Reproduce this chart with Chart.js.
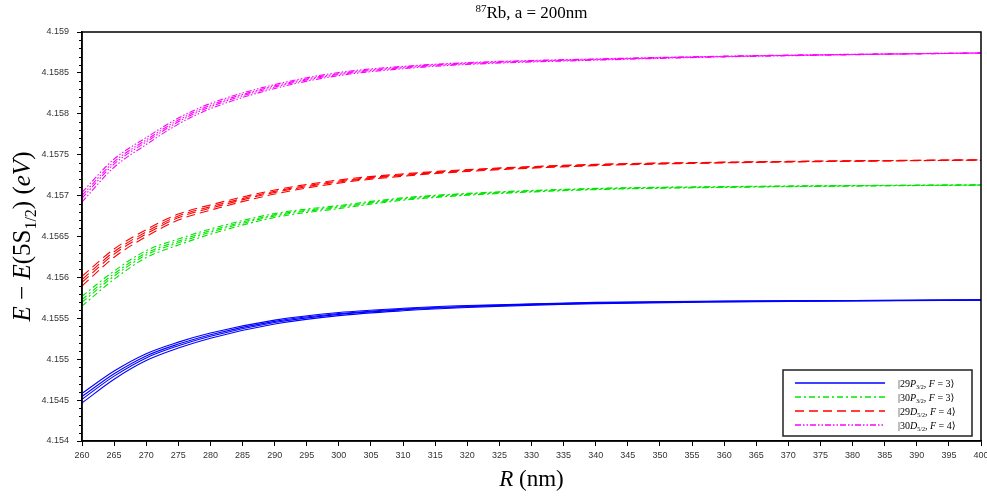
<!DOCTYPE html>
<html>
<head>
<meta charset="utf-8">
<script src="https://cdn.jsdelivr.net/npm/chart.js@4"></script>
<style>
  html, body { margin: 0; padding: 0; background: #fff; }
  canvas { display: block; }
</style>
</head>
<body>
<canvas id="levels" width="987" height="496"></canvas>
<script>
// distance from the surface, nm
const R = [260, 265, 270, 275, 280, 290, 300, 310, 320, 340, 360, 380, 400];

// |29P3/2, F=3>, four sublevels
const p29P_a = [4.154583, 4.154856, 4.155068, 4.155209, 4.155321, 4.155478, 4.155571, 4.155622, 4.155656, 4.155695, 4.155710, 4.155718, 4.155725];
const p29P_b = [4.154544, 4.154822, 4.155040, 4.155185, 4.155300, 4.155462, 4.155558, 4.155612, 4.155648, 4.155689, 4.155707, 4.155716, 4.155724];
const p29P_c = [4.154510, 4.154793, 4.155016, 4.155164, 4.155281, 4.155448, 4.155548, 4.155604, 4.155641, 4.155685, 4.155704, 4.155714, 4.155723];
const p29P_d = [4.154465, 4.154755, 4.154983, 4.155136, 4.155257, 4.155430, 4.155533, 4.155592, 4.155632, 4.155679, 4.155700, 4.155712, 4.155722];

// |30P3/2, F=3>
const p30P_a = [4.155769, 4.156078, 4.156328, 4.156469, 4.156592, 4.156780, 4.156879, 4.156973, 4.157027, 4.157088, 4.157110, 4.157123, 4.157131];
const p30P_b = [4.155730, 4.156045, 4.156299, 4.156444, 4.156571, 4.156764, 4.156867, 4.156963, 4.157020, 4.157083, 4.157107, 4.157121, 4.157130];
const p30P_c = [4.155696, 4.156016, 4.156275, 4.156423, 4.156553, 4.156750, 4.156856, 4.156954, 4.157013, 4.157079, 4.157104, 4.157119, 4.157129];
const p30P_d = [4.155650, 4.155977, 4.156242, 4.156395, 4.156528, 4.156732, 4.156841, 4.156943, 4.157004, 4.157073, 4.157100, 4.157117, 4.157128];

// |29D5/2, F=4>
const d29D_a = [4.156014, 4.156347, 4.156584, 4.156774, 4.156886, 4.157068, 4.157191, 4.157266, 4.157318, 4.157382, 4.157409, 4.157426, 4.157437];
const d29D_b = [4.155974, 4.156314, 4.156556, 4.156750, 4.156864, 4.157052, 4.157178, 4.157256, 4.157311, 4.157377, 4.157406, 4.157424, 4.157436];
const d29D_c = [4.155940, 4.156285, 4.156531, 4.156729, 4.156846, 4.157038, 4.157167, 4.157248, 4.157304, 4.157372, 4.157403, 4.157422, 4.157435];
const d29D_d = [4.155895, 4.156246, 4.156499, 4.156701, 4.156822, 4.157019, 4.157153, 4.157237, 4.157295, 4.157366, 4.157400, 4.157420, 4.157433];

// |30D5/2, F=4>
const d30D_a = [4.157040, 4.157447, 4.157709, 4.157948, 4.158126, 4.158357, 4.158505, 4.158580, 4.158626, 4.158671, 4.158705, 4.158728, 4.158745];
const d30D_b = [4.157001, 4.157414, 4.157681, 4.157923, 4.158105, 4.158341, 4.158492, 4.158571, 4.158619, 4.158666, 4.158702, 4.158726, 4.158744];
const d30D_c = [4.156967, 4.157385, 4.157656, 4.157902, 4.158087, 4.158327, 4.158481, 4.158562, 4.158612, 4.158662, 4.158699, 4.158724, 4.158743];
const d30D_d = [4.156922, 4.157347, 4.157624, 4.157874, 4.158062, 4.158309, 4.158467, 4.158551, 4.158603, 4.158656, 4.158696, 4.158722, 4.158742];

const groups = [
  { label: [['|29', 'r'], ['P', 'i'], ['3/2', 'sub'], [', ', 'r'], ['F', 'i'], [' = 3\u27E9', 'r']],
    color: '#0000ff', dash: [], curves: [p29P_a, p29P_b, p29P_c, p29P_d] },
  { label: [['|30', 'r'], ['P', 'i'], ['3/2', 'sub'], [', ', 'r'], ['F', 'i'], [' = 3\u27E9', 'r']],
    color: '#00e600', dash: [6, 3, 2, 3], curves: [p30P_a, p30P_b, p30P_c, p30P_d] },
  { label: [['|29', 'r'], ['D', 'i'], ['5/2', 'sub'], [', ', 'r'], ['F', 'i'], [' = 4\u27E9', 'r']],
    color: '#ff0000', dash: [9, 5], curves: [d29D_a, d29D_b, d29D_c, d29D_d] },
  { label: [['|30', 'r'], ['D', 'i'], ['5/2', 'sub'], [', ', 'r'], ['F', 'i'], [' = 4\u27E9', 'r']],
    color: '#ff00ff', dash: [6, 2, 1.5, 2, 1.5, 2], curves: [d30D_a, d30D_b, d30D_c, d30D_d] }
];

const datasets = [];
groups.forEach(g => {
  g.curves.forEach(c => {
    datasets.push({
      data: R.map((r, i) => ({ x: r, y: c[i] })),
      borderColor: g.color,
      borderWidth: 1.1,
      borderDash: g.dash,
      pointRadius: 0,
      fill: false,
      cubicInterpolationMode: 'monotone'
    });
  });
});

const SERIF = '"Liberation Serif", "DejaVu Serif", serif';

// draws a run of text pieces: r = roman, i = italic, sub / sup = small shifted
function drawRich(ctx, parts, x, y, size, align) {
  const fontFor = st => {
    if (st === 'sub' || st === 'sup') return `${Math.round(size * 0.62)}px ${SERIF}`;
    if (st === 'i') return `italic ${size}px ${SERIF}`;
    return `${size}px ${SERIF}`;
  };
  let total = 0;
  parts.forEach(([t, st]) => { ctx.font = fontFor(st); total += ctx.measureText(t).width; });
  let cx = align === 'center' ? x - total / 2 : x;
  ctx.textBaseline = 'alphabetic';
  ctx.textAlign = 'left';
  parts.forEach(([t, st]) => {
    ctx.font = fontFor(st);
    let dy = 0;
    if (st === 'sub') dy = size * 0.22;
    if (st === 'sup') dy = -size * 0.38;
    ctx.fillText(t, cx, y + dy);
    cx += ctx.measureText(t).width;
  });
}

const decorations = {
  id: 'decorations',
  afterDraw(chart) {
    const ctx = chart.ctx;
    const a = chart.chartArea;
    const ys = chart.scales.y;
    ctx.save();

    // minor ticks on the energy axis
    ctx.strokeStyle = '#000';
    ctx.lineWidth = 1;
    for (let k = 0; k <= 50; k++) {
      if (k % 5 === 0) continue;
      const py = Math.round(ys.getPixelForValue(4.154 + k * 0.0001)) + 0.5;
      ctx.beginPath();
      ctx.moveTo(a.left - 3, py);
      ctx.lineTo(a.left, py);
      ctx.stroke();
    }

    // frame
    ctx.lineWidth = 1.5;
    ctx.strokeRect(a.left, a.top, a.right - a.left, a.bottom - a.top);

    ctx.fillStyle = '#000';
    drawRich(ctx, [['87', 'sup'], ['Rb, a = 200nm', 'r']], (a.left + a.right) / 2, 18, 17, 'center');
    drawRich(ctx, [['R', 'i'], [' (nm)', 'r']], (a.left + a.right) / 2, 486, 23, 'center');

    ctx.save();
    ctx.translate(30, (a.top + a.bottom) / 2);
    ctx.rotate(-Math.PI / 2);
    drawRich(ctx, [['E', 'i'], [' \u2212 ', 'r'], ['E', 'i'], ['(5S', 'r'], ['1/2', 'sub'],
                   [') (', 'r'], ['eV', 'i'], [')', 'r']], 0, 0, 25, 'center');
    ctx.restore();

    // legend box
    const bx = 783, by = 370, bw = 189, bh = 66;
    ctx.fillStyle = '#fff';
    ctx.fillRect(bx, by, bw, bh);
    ctx.strokeStyle = '#222';
    ctx.lineWidth = 1.5;
    ctx.strokeRect(bx, by, bw, bh);
    ctx.lineWidth = 1.4;
    groups.forEach((g, i) => {
      const ly = by + 13 + i * 14;
      ctx.strokeStyle = g.color;
      ctx.setLineDash(g.dash);
      ctx.beginPath();
      ctx.moveTo(795, ly);
      ctx.lineTo(885, ly);
      ctx.stroke();
      ctx.setLineDash([]);
      ctx.fillStyle = '#000';
      drawRich(ctx, g.label, 898, ly + 3.5, 10, 'left');
    });
    ctx.restore();
  }
};

new Chart(document.getElementById('levels'), {
  type: 'line',
  data: { datasets },
  plugins: [decorations],
  options: {
    responsive: false,
    animation: false,
    layout: { padding: { top: 32, right: 6, left: 0, bottom: 0 } },
    plugins: { legend: { display: false }, tooltip: { enabled: false }, title: { display: false } },
    scales: {
      x: {
        type: 'linear',
        min: 260,
        max: 400,
        ticks: {
          stepSize: 5,
          autoSkip: false,
          maxRotation: 0,
          padding: 4,
          color: '#333',
          font: { family: '"Liberation Sans", Arial, sans-serif', size: 9 }
        },
        grid: { drawOnChartArea: false, tickLength: 5, color: '#000' },
        border: { color: '#000', width: 1.5 },
        afterFit(s) { s.height = 55; s.paddingLeft = 0; s.paddingRight = 0; }
      },
      y: {
        min: 4.154,
        max: 4.159,
        ticks: {
          stepSize: 0.0005,
          padding: 8,
          color: '#333',
          font: { family: '"Liberation Sans", Arial, sans-serif', size: 9 },
          callback: v => v.toFixed(4).replace(/0+$/, '')
        },
        grid: { drawOnChartArea: false, tickLength: 5, color: '#000' },
        border: { color: '#000', width: 1.5 },
        afterFit(s) { s.width = 82; s.paddingTop = 0; s.paddingBottom = 0; }
      }
    }
  }
});
</script>
</body>
</html>
